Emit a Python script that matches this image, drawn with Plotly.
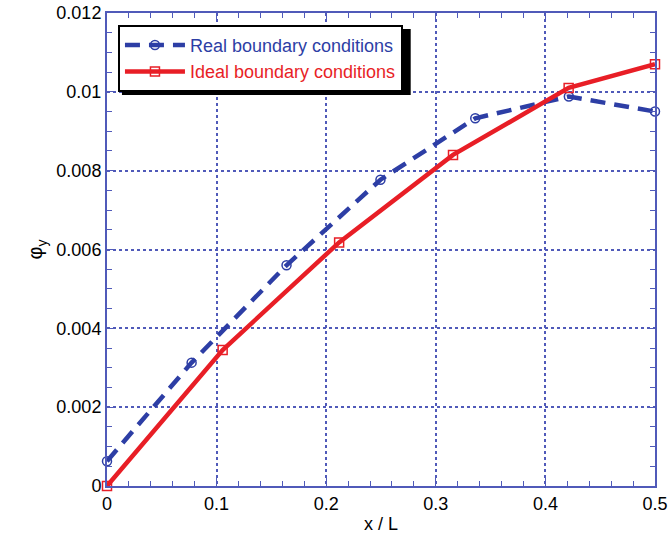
import plotly.graph_objects as go

real_x = [0.0, 0.0772, 0.1638, 0.2495, 0.336, 0.4214, 0.5]
real_y = [0.00063, 0.00313, 0.0056, 0.00777, 0.00933, 0.00988, 0.0095]
ideal_x = [0.0, 0.1055, 0.2118, 0.3157, 0.4212, 0.5]
ideal_y = [0.0, 0.00345, 0.00618, 0.0084, 0.0101, 0.0107]

BLUE = "rgb(45,62,165)"
RED = "rgb(232,30,38)"
FRAME = "rgb(80,90,185)"
FONT = "Liberation Sans, Arial"

fig = go.Figure()
fig.add_trace(go.Scatter(
    x=real_x, y=real_y, mode="lines+markers", legendgroup="a", cliponaxis=False,
    name="<span style='color:rgb(45,62,165)'>Real boundary conditions</span>",
    line=dict(color=BLUE, width=4.5, dash="15px,9px"),
    marker=dict(symbol="circle-open", size=9, color=BLUE, line=dict(width=1.5)),
))
fig.add_trace(go.Scatter(
    x=ideal_x, y=ideal_y, mode="lines+markers", legendgroup="b", cliponaxis=False,
    name="<span style='color:rgb(232,30,38)'>Ideal boundary conditions</span>",
    line=dict(color=RED, width=4.5),
    marker=dict(symbol="square-open", size=9, color=RED, line=dict(width=1.5)),
))

axis_common = dict(
    showline=True, linecolor=FRAME, linewidth=2, mirror="allticks",
    ticks="inside", ticklen=8, tickcolor=FRAME, tickwidth=1.2,
    showgrid=True, gridcolor=FRAME, griddash="dot", gridwidth=1.5,
    zeroline=False, automargin=False,
    tickfont=dict(family=FONT, size=18, color="black"),
)

fig.update_xaxes(
    range=[0, 0.5],
    tickvals=[0, 0.1, 0.2, 0.3, 0.4, 0.5],
    ticktext=["0", "0.1", "0.2", "0.3", "0.4", "0.5"],
    minor=dict(ticks="inside", dtick=0.02, ticklen=5, tickcolor=FRAME, showgrid=False),
    title=dict(text="x / L", font=dict(family=FONT, size=18, color="black"), standoff=5),
    **axis_common,
)
fig.update_yaxes(
    range=[0, 0.012],
    tickvals=[0, 0.002, 0.004, 0.006, 0.008, 0.01, 0.012],
    ticktext=["0", "0.002", "0.004", "0.006", "0.008", "0.01", "0.012"],
    minor=dict(ticks="inside", dtick=0.0005, ticklen=5, tickcolor=FRAME, showgrid=False),
    title=dict(text="φ<sub>y</sub>", font=dict(family=FONT, size=20, color="black"), standoff=8),
    **axis_common,
)

fig.add_shape(type="rect", xref="paper", yref="paper",
              x0=0.0273, x1=0.5542, y0=0.8266, y1=0.9662,
              fillcolor="black", line=dict(width=0), layer="above")

fig.update_layout(
    width=668, height=545,
    margin=dict(l=107, r=13, t=13, b=59),
    paper_bgcolor="white", plot_bgcolor="white",
    showlegend=True,
    legend=dict(
        x=0.02, y=0.975, xanchor="left", yanchor="top",
        bgcolor="white", bordercolor="black", borderwidth=2,
        font=dict(family=FONT, size=18),
        traceorder="grouped", tracegroupgap=0, itemwidth=60,
    ),
)

fig.write_html("out.html", config={"displayModeBar": False},
               post_script="document.body.style.margin='0';document.body.style.overflow='hidden';")
